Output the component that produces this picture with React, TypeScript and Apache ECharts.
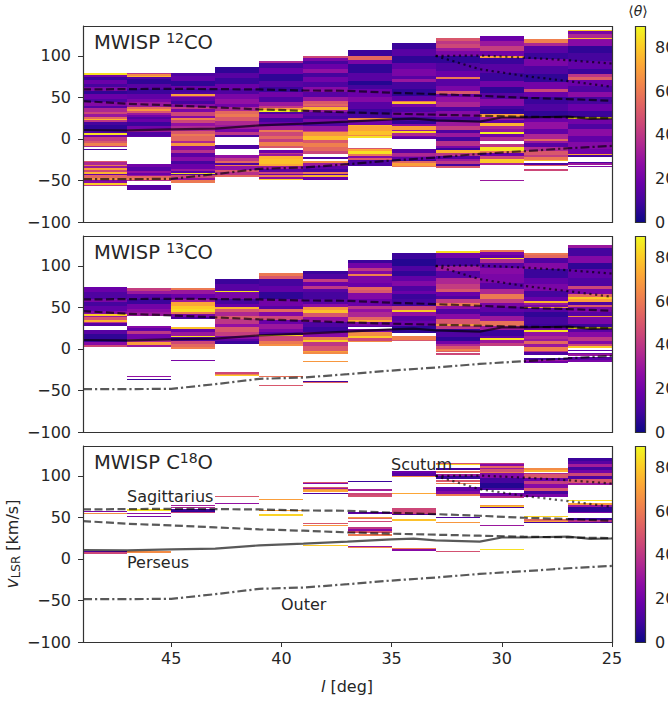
import React, { useEffect, useRef } from "react";
import * as echarts from "echarts";

type Band = [number, number, number];

const lonEdges = [49, 47, 45, 43, 41, 39, 37, 35, 33, 31, 29, 27, 25];
const yTicks = [-100, -50, 0, 50, 100];
const xTicks = [45, 40, 35, 30, 25];
const cbTicks = [0, 20, 40, 60, 80];
const panelNames = ["12", "13", "18"];

// [v high, v low, <theta>] per longitude bin
const co12: Band[][] = [
  [[79,77,85],[77,74,20],[74,71,8],[71,66,18],[66,62,10],[62,58,22],[58,54,6],[54,48,18],[48,44,12],[44,40,24],[40,37,14],[37,33,35],[33,30,45],[30,26,30],[26,24,55],[24,23,75],[23,21,40],[21,17,10],[17,12,6],[12,7,12],[7,5,85],[5,2,20],[2,-2,42],[-2,-5,50],[-5,-8,62],[-8,-10,35],[-12,-13,10],[-27,-28,50],[-28,-31,35],[-31,-33,60],[-33,-35,30],[-35,-37,70],[-37,-40,45],[-40,-42,75],[-42,-44,18],[-44,-47,55],[-47,-50,65],[-50,-53,25],[-53,-55,80],[-55,-57,40]],
  [[79.5,78,40],[78,76,65],[76,74,75],[74,72,12],[72,66,6],[66,60,14],[60,54,8],[54,48,16],[48,44,22],[44,39,30],[39,36,55],[36,34,68],[34,31,50],[31,29,30],[29,26,20],[26,24,12],[24,20,18],[20,16,8],[16,12,20],[12,8,30],[8,4,12],[4,2,16],[-30,-34,20],[-34,-38,14],[-38,-41,28],[-41,-43,18],[-43,-45,30],[-45,-47,55],[-47,-49,60],[-49,-50,35],[-56,-62,14]],
  [[80,76,12],[76,70,16],[70,64,6],[64,60,18],[60,56,10],[56,54,12],[54,52,70],[52,50,35],[50,46,16],[46,42,10],[42,38,25],[38,36,40],[36,32,22],[32,28,45],[28,25,25],[25,23,62],[23,19,45],[19,15,28],[15,10,35],[10,6,50],[6,3,60],[3,-2,55],[-2,-5,35],[-5,-9,68],[-9,-13,25],[-13,-17,38],[-17,-22,15],[-22,-26,25],[-26,-30,10],[-30,-36,18],[-36,-38,30],[-38,-41,14],[-41,-42,85],[-42,-44,12],[-44,-47,45],[-47,-50,28],[-50,-53,60]],
  [[87,80,6],[80,73,14],[73,66,8],[66,60,18],[60,54,12],[54,48,22],[48,42,28],[42,38,20],[38,34,35],[34,30,55],[30,26,60],[26,22,50],[22,17,35],[17,12,30],[12,8,22],[8,5,40],[5,2,12],[-7,-12,12],[-19,-23,28],[-23,-26,40],[-26,-29,55],[-29,-31,12],[-31,-33,60],[-33,-37,28],[-37,-40,50],[-40,-43,38],[-43,-46,55]],
  [[94,92,35],[92,85,10],[85,78,18],[78,70,6],[70,62,14],[62,56,8],[56,50,20],[50,44,12],[44,40,30],[40,37,42],[37,35,70],[35,33,88],[33,30,12],[30,25,25],[25,20,10],[20,15,18],[15,11,32],[11,8,60],[8,4,45],[4,0,55],[0,-4,42],[-4,-8,62],[-8,-11,50],[-13,-17,18],[-17,-18,40],[-18,-21,30],[-21,-24,75],[-24,-30,78],[-30,-33,72],[-33,-36,30],[-36,-40,14],[-40,-42,45],[-42,-44,20],[-44,-46,60],[-46,-48,25],[-48,-49,80]],
  [[99.6,98,45],[98,94,22],[94,90,10],[90,84,18],[84,80,28],[80,74,10],[74,68,20],[68,62,12],[62,56,25],[56,50,14],[50,46,30],[46,42,50],[42,40,55],[40,38,45],[38,35,75],[35,33,30],[33,28,14],[28,24,10],[24,20,22],[20,15,12],[15,10,30],[10,8,45],[8,3,68],[3,-1,78],[-1,-5,50],[-5,-10,62],[-10,-14,55],[-14,-18,45],[-22,-24,12],[-26,-29,65],[-29,-33,30],[-33,-36,16],[-36,-40,10],[-40,-42,60],[-42,-44,14],[-44,-46,75],[-46,-50,18]],
  [[107.6,100,8],[100,95,55],[95,90,22],[90,80,6],[80,70,14],[70,65,4],[65,60,10],[60,50,18],[50,44,24],[44,36,14],[36,30,8],[30,25,10],[25,23,65],[23,17,20],[17,15,75],[15,10,72],[10,5,78],[5,3,65],[3,1,85],[-11,-12,50],[-12,-15,72],[-15,-18,85],[-18,-21,60],[-21,-23,25],[-23,-25,50],[-25,-32,12]],
  [[116,108,8],[108,100,14],[100,92,6],[92,84,16],[84,76,22],[76,72,14],[72,68,30],[68,60,10],[60,52,6],[52,46,16],[46,44,60],[44,42,78],[42,38,22],[38,32,12],[32,26,20],[26,22,10],[22,18,6],[18,15,25],[15,11,70],[11,9,30],[9,7,82],[7,4,35],[4,3,20],[2,0,15],[-12,-17,14],[-17,-20,35],[-20,-22,30],[-22,-25,16],[-25,-27,8],[-27,-29,55],[-29,-32,70],[-32,-34,60]],
  [[122,118,50],[118,114,40],[114,110,45],[110,106,30],[106,100,22],[100,92,6],[92,82,12],[82,74,18],[74,72,60],[72,64,14],[64,58,22],[58,54,50],[54,50,18],[50,44,28],[44,38,34],[38,34,12],[34,26,25],[26,20,14],[20,15,30],[15,11,42],[11,7,12],[7,2,30],[2,-3,10],[-3,-8,38],[-8,-11,22],[-11,-13,8],[-13,-17,75],[-17,-20,40],[-20,-24,14],[-24,-27,30],[-27,-30,40],[-30,-33,10],[-33,-35,50]],
  [[123.6,118,18],[118,112,30],[112,106,42],[106,100,20],[100,98,70],[98,90,8],[90,80,14],[80,70,8],[70,62,20],[62,55,6],[55,48,14],[48,40,25],[40,36,10],[36,30,6],[30,27,70],[27,23,30],[23,19,16],[19,16,75],[16,12,35],[12,8,28],[8,6,88],[6,2,20],[2,-3,35],[-6,-10,40],[-10,-14,85],[-14,-17,60],[-17,-21,18],[-21,-24,45],[-24,-29,80],[-29,-31,35],[-49,-51,30]],
  [[120.8,116,62],[116,112,35],[112,104,14],[104,96,8],[96,88,22],[88,78,12],[78,68,6],[68,60,20],[60,56,45],[56,50,18],[50,42,8],[42,34,12],[34,26,6],[26,20,18],[20,12,28],[12,6,16],[6,0,35],[0,-2,55],[-2,-5,30],[-5,-10,14],[-10,-15,35],[-15,-19,50],[-19,-22,42],[-22,-25,60],[-25,-27,75],[-29,-31,12],[-31,-33,50],[-36,-38,45]],
  [[131.6,130,80],[130,126,22],[126,122,35],[122,120,78],[120,112,25],[112,104,6],[104,94,10],[94,84,16],[84,78,8],[78,74,40],[74,71,52],[71,64,18],[64,56,12],[56,50,26],[50,42,10],[42,34,18],[34,27,8],[27,24,84],[24,18,20],[18,12,12],[12,4,26],[4,-4,16],[-4,-12,24],[-12,-18,20],[-18,-19,72],[-19,-22,10],[-28,-29,12],[-29,-31,30],[-32,-34,25]],
];

const co13: Band[][] = [
  [[74,68,18],[68,60,12],[60,56,22],[56,52,10],[52,46,16],[46,42,24],[42,40,80],[40,38,30],[38,35,50],[35,33,75],[33,31,40],[31,28,14],[23,18,14],[18,12,6],[12,8,8],[8,5,25],[5,2,45]],
  [[73,70,42],[70,66,30],[66,60,14],[60,54,8],[54,48,20],[48,44,26],[44,40,30],[28,25,25],[25,22,16],[22,18,40],[18,12,20],[12,8,35],[8,5,70],[5,2,30],[-33,-34,28],[-36,-37,8]],
  [[73,71,60],[71,66,30],[66,60,18],[60,56,30],[56,52,72],[52,48,80],[48,44,84],[44,42,60],[42,38,22],[38,36,12],[26,24,78],[24,20,18],[20,16,30],[16,14,85],[14,10,12],[10,6,45],[6,2,55],[2,0,62],[-13,-15,22]],
  [[84,78,8],[78,70,14],[70,68,85],[68,60,22],[60,54,10],[54,50,18],[50,48,75],[48,44,50],[44,40,35],[40,36,50],[36,30,40],[30,26,28],[26,20,50],[20,16,42],[16,12,25],[12,9,15],[9,6,8],[-28,-30,45],[-30,-31,62],[-31,-32,80]],
  [[91.6,88,60],[88,84,50],[84,76,10],[76,68,16],[68,60,6],[60,52,20],[52,48,14],[48,44,55],[44,40,24],[40,35,45],[35,30,18],[30,24,30],[24,20,22],[20,17,14],[17,15,82],[15,10,45],[10,6,60],[6,3,66],[-32,-34,58],[-43,-44,50]],
  [[94,90,8],[90,84,12],[84,81,42],[81,76,18],[76,72,40],[72,68,14],[68,60,10],[60,54,14],[54,50,26],[50,47,68],[47,43,78],[43,39,50],[39,33,28],[33,26,12],[26,20,8],[20,14,25],[14,11,60],[11,8,80],[8,3,40],[3,-2,50],[-2,-4,70],[-4,-6,65],[-14,-15,68],[-38,-39.5,10],[-39.5,-40.5,55]],
  [[107,104,8],[104,98,20],[98,94,40],[94,90,24],[90,88,62],[88,80,22],[80,74,18],[74,71,55],[71,67,50],[67,60,24],[60,52,18],[52,48,40],[48,44,28],[44,39,35],[39,35,55],[35,32,72],[32,28,22],[28,26,14],[24,20,22],[20,16,65],[16,13,80],[13,10,45],[10,8,65]],
  [[115,108,8],[108,100,4],[100,94,12],[94,88,6],[88,82,16],[82,76,24],[76,70,12],[70,66,18],[66,60,8],[60,52,10],[52,47,45],[47,44,80],[44,40,28],[40,34,14],[34,28,18],[28,19,6],[15,11,62],[11,9,50]],
  [[117.6,115,84],[115,110,20],[110,100,10],[100,94,30],[94,86,14],[86,78,35],[78,72,42],[72,68,50],[68,64,18],[64,60,12],[60,55,42],[55,52,60],[52,48,28],[48,42,12],[42,36,25],[36,30,50],[30,28,68],[28,24,40],[24,20,8],[20,14,12],[14,10,6],[10,6,20],[6,3,35],[3,0,50],[0,-2,62],[-2,-4,52],[-5,-7,45]],
  [[119,117,60],[117,113,22],[113,110,16],[110,108,82],[108,104,35],[104,98,14],[98,90,25],[90,80,22],[80,72,14],[72,66,35],[66,60,60],[60,55,42],[55,50,22],[50,44,16],[44,40,10],[40,34,30],[34,28,58],[28,23,30],[23,16,8],[16,13,16],[13,11,85],[11,7,30],[7,3,42]],
  [[116,113,60],[113,110,55],[110,104,12],[104,96,24],[96,86,8],[86,78,16],[78,70,22],[70,62,10],[62,58,18],[58,55,75],[55,53,30],[53,51,22],[51,49,68],[49,44,14],[44,38,6],[38,30,10],[30,26,8],[26,23,18],[23,21,85],[21,16,28],[16,12,35],[12,10,30],[10,6,55],[6,2,30],[2,-2,62],[-2,-4,38],[-4,-7,12],[-11,-13,10],[-13,-15,30],[-15,-17,20]],
  [[125,122,30],[122,112,10],[112,104,24],[104,96,6],[96,86,16],[86,76,12],[76,72,45],[72,66,22],[66,62,55],[62,60,80],[60,57,70],[57,53,12],[53,50,50],[50,44,22],[44,40,14],[40,38,66],[38,30,22],[30,26,8],[26,24,85],[24,20,14],[20,14,25],[14,10,40],[10,6,24],[6,4,45],[4,1,80],[-1,-2,14],[-5,-6,20],[-6,-9,30],[-10,-13,14],[-13,-16,22]],
];

const c18o: Band[][] = [
  [[58,56,22],[55,54,65],[10,8,12],[8,6,45]],
  [[60,58,85],[55,54,28],[52,51,22],[9,7.5,65]],
  [[65,64,32],[63,61,35],[60,58,8],[58,56,5],[56,55,42]],
  [[75.5,74,50],[67.5,66,28]],
  [[72,71,70],[58.5,57.5,70],[54,52,82]],
  [[93,92,50],[92,90,25],[87,85,48],[85,84,30],[84,83,65],[83,81,72],[80,79,12],[43,42,50],[41,40,68],[16.5,15.5,80]],
  [[94,93,8],[84,82,32],[80,79,60],[79,77,45],[77,74,48],[56,54,15],[51,50,68],[49,48,55],[46,45,45],[38,36,40],[36,34,25],[34,31,50],[30,28,60],[15.5,14,30],[14,13,65]],
  [[106,103,18],[103,100,14],[100,99,65],[79.5,78.5,72],[61,58,45],[58,54,45],[54,53,14],[48,46,78],[13.5,12.5,62],[12,10,25]],
  [[116,115,50],[114,113,82],[110,107,10],[106,104,55],[102,100,30],[100,96,8],[95,93,50],[91,90,60],[87,82,16],[82,78,24],[78,76,60],[51,49.5,12],[44.5,43.5,68],[9.5,8.5,48]],
  [[116,114,40],[114,112,25],[112,110,55],[110,108,30],[108,105,48],[105,103,60],[103,98,25],[98,92,10],[92,86,4],[86,83,12],[79,76,20],[76,73,38],[65,64,68],[64,63,80],[63,62,12],[41,40,30],[12.5,11,85]],
  [[109,107,65],[107,105,75],[104,102,35],[102,98,50],[98,94,18],[94,90,42],[90,86,25],[86,82,50],[82,78,10],[78,75,22],[51.5,50.5,82],[48,46,55],[46,44.5,72],[44,43,10]],
  [[121,118,8],[118,114,14],[114,111,32],[111,107,10],[107,103,20],[103,100,45],[100,96,12],[96,92,50],[92,89,30],[70.5,69.5,85],[67,65,70],[65,63,30],[62,56,6],[56,55,22],[49,47,8],[47,45,40],[45,44,12]],
];

// spiral arm tracks: [l, v]
const sagittariusNear = [[49,59.6],[47,60],[45,60.4],[43,60],[41,59.6],[39,58.4],[37,58],[35,55.6],[33,54],[31,52],[29,49.6],[27,48],[25,46]];
const sagittariusFar = [[49,45.6],[47,42.4],[45,40.4],[43,38],[41,35.6],[39,34],[37,32],[35,30.4],[33,29.2],[31,28],[29,26.8],[27,26],[25,25]];
const perseus = [[49,10.8],[47,10.4],[45,11.6],[43,12.4],[41,16.4],[39,18.4],[37,20.8],[35,23.6],[34,24.4],[33,22.4],[31,20.8],[30,25.8],[29,25.8],[27,27],[26,24.2],[25,24.6]];
const outer = [[49,-48.4],[47,-48.4],[45,-48],[43,-42.4],[41,-36],[39,-34.4],[37,-30.4],[35,-26],[33,-22.4],[31,-18],[29,-14.8],[27,-11.2],[25,-8.4]];
const scutumUpper = [[33,100],[31,100.4],[29,98],[27,94.8],[25,90.8]];
const scutumLower = [[33,100],[31,84],[29,76],[27,69.6],[25,62.8]];

const plasma = ["#0d0887","#41049d","#6a00a8","#8f0da4","#b12a90","#cc4778","#e16462","#f1844b","#fca636","#fcce25","#f0f921"];

function thetaColor(t: number): string {
  const u = Math.max(0, Math.min(1, t / 90)) * (plasma.length - 1);
  const i = Math.min(plasma.length - 2, Math.floor(u));
  const f = u - i;
  const a = plasma[i], b = plasma[i + 1];
  const ch = (s: string, k: number) => parseInt(s.substr(1 + 2 * k, 2), 16);
  const c = [0, 1, 2].map((k) => Math.round(ch(a, k) + (ch(b, k) - ch(a, k)) * f));
  return `rgb(${c[0]},${c[1]},${c[2]})`;
}

const FONT = "DejaVu Sans";
const INK = "#262626";
const AXIS = "#333333";
const GL = 83, GW = 529, GH = 196;
const TOPS = [26, 236, 446];
const CBL = 635, CBW = 10;
const VMAX = 136;
const TICK_FS = 16;

function cells(cols: Band[][]) {
  const out: number[][] = [];
  cols.forEach((bands, i) => {
    bands.forEach((b) => out.push([lonEdges[i], lonEdges[i + 1], b[0], b[1], b[2]]));
  });
  return out;
}

function renderCell(_: any, api: any) {
  const p0 = api.coord([api.value(0), api.value(2)]);
  const p1 = api.coord([api.value(1), api.value(3)]);
  const x0 = Math.round(p0[0]), x1 = Math.round(p1[0]);
  const y0 = Math.round(p0[1]);
  const y1 = Math.max(y0 + 1, Math.round(p1[1]));
  return {
    type: "rect",
    shape: { x: x0, y: y0, width: x1 - x0, height: y1 - y0 },
    style: { fill: thetaColor(api.value(4)) },
  };
}

function renderBar(_: any, api: any) {
  const p0 = api.coord([0, 90]);
  const p1 = api.coord([1, 0]);
  const stops = plasma.map((c, i) => ({ offset: 1 - i / (plasma.length - 1), color: c })).reverse();
  return {
    type: "rect",
    shape: { x: p0[0], y: p0[1], width: p1[0] - p0[0], height: p1[1] - p0[1] },
    style: { fill: new echarts.graphic.LinearGradient(0, 0, 0, 1, stops) },
  };
}

function minusFmt(v: number) {
  return String(v).replace("-", "\u2212");
}

function buildOption() {
  const grid: any[] = [], xAxis: any[] = [], yAxis: any[] = [], series: any[] = [], graphic: any[] = [];
  const data = [co12, co13, c18o];
  const tracks: [number[][], any][] = [
    [sagittariusNear, [8, 3.5]],
    [sagittariusFar, [8, 3.5]],
    [perseus, "solid"],
    [outer, [9, 3, 2.2, 3]],
    [scutumUpper, [2.2, 3.6]],
    [scutumLower, [2.2, 3.6]],
  ];
  TOPS.forEach((top, k) => {
    grid.push({ left: GL, top, width: GW, height: GH, containLabel: false, outerBoundsMode: "none" });
    xAxis.push({
      gridIndex: k, type: "value", inverse: true, min: 25, max: 49, interval: 5, splitLine: { show: false },
      axisLine: { show: true, onZero: false, lineStyle: { color: AXIS, width: 1 } },
      axisTick: { show: k === 2, length: 5, lineStyle: { color: AXIS }, customValues: xTicks },
      axisLabel: { show: k === 2, customValues: xTicks, margin: 8, fontFamily: FONT, fontSize: TICK_FS, color: INK },
    });
    yAxis.push({
      gridIndex: k, type: "value", min: -100, max: VMAX, splitLine: { show: false },
      axisLine: { show: true, onZero: false, lineStyle: { color: AXIS, width: 1 } },
      axisTick: { show: true, length: 5, lineStyle: { color: AXIS }, customValues: yTicks },
      axisLabel: { show: true, customValues: yTicks, margin: 12, fontFamily: FONT, fontSize: TICK_FS, color: INK, formatter: minusFmt },
    });
    series.push({
      type: "custom", xAxisIndex: k, yAxisIndex: k, silent: true, z: 2, clip: true,
      encode: { x: [0, 1], y: [2, 3] }, renderItem: renderCell, data: cells(data[k]),
    });
    tracks.forEach(([pts, type]) => {
      series.push({
        type: "line", xAxisIndex: k, yAxisIndex: k, silent: true, z: 3, symbol: "none", clip: true, data: pts,
        lineStyle: { color: "#000", opacity: 0.65, width: 2.2, type },
      });
    });
    graphic.push({
      type: "rect", z: 50, silent: true,
      shape: { x: GL + 0.5, y: top + 0.5, width: GW, height: GH },
      style: { fill: "none", stroke: AXIS, lineWidth: 1.2 },
    });
  });
  TOPS.forEach((top, k) => {
    const gi = 3 + k;
    grid.push({ left: CBL, top, width: CBW, height: GH, outerBoundsMode: "none" });
    xAxis.push({ gridIndex: gi, type: "value", min: 0, max: 1, show: false });
    yAxis.push({
      gridIndex: gi, type: "value", position: "right", min: 0, max: 90, splitLine: { show: false },
      axisLine: { show: false },
      axisTick: { show: true, length: 5, lineStyle: { color: AXIS }, customValues: cbTicks },
      axisLabel: { show: true, customValues: cbTicks, margin: 10, fontFamily: FONT, fontSize: TICK_FS, color: INK },
    });
    series.push({
      type: "custom", xAxisIndex: gi, yAxisIndex: gi, silent: true, z: 2,
      renderItem: renderBar, data: [[0, 90]], encode: { x: 0, y: 1 },
    });
    graphic.push({
      type: "rect", z: 50, silent: true,
      shape: { x: CBL + 0.5, y: top + 0.5, width: CBW, height: GH },
      style: { fill: "none", stroke: AXIS, lineWidth: 1.2 },
    });
  });
  const base = { fontFamily: FONT, fill: INK };
  const supRich = {
    s: { fontFamily: FONT, fontSize: 14, fill: INK, verticalAlign: "top", lineHeight: 10 },
    m: { fontFamily: FONT, fontSize: 19.5, fill: INK, lineHeight: 22 },
  };
  graphic.push({ type: "text", z: 60, silent: true, x: 94, y: 31, style: { ...base, fontSize: 19.5, rich: supRich, text: `{m|MWISP }{s|${panelNames[0]}}{m|CO}` } });
  graphic.push({ type: "text", z: 60, silent: true, x: 94, y: 241, style: { ...base, fontSize: 19.5, rich: supRich, text: `{m|MWISP }{s|${panelNames[1]}}{m|CO}` } });
  graphic.push({ type: "text", z: 60, silent: true, x: 94, y: 451, style: { ...base, fontSize: 19.5, rich: supRich, text: `{m|MWISP C}{s|${panelNames[2]}}{m|O}` } });
  const arm = (text: string, x: number, y: number) => ({ type: "text", z: 60, silent: true, x, y, style: { ...base, fontSize: 16, text, align: "left", verticalAlign: "middle" } });
  graphic.push(arm("Sagittarius", 127, 496), arm("Perseus", 127, 562), arm("Outer", 281, 604), arm("Scutum", 391, 464));
  graphic.push({
    type: "text", z: 60, silent: true, x: 347, y: 686,
    style: { ...base, fontSize: 16, align: "center", verticalAlign: "middle", text: "{i|l} [deg]", rich: { i: { fontFamily: FONT, fontSize: 16, fontStyle: "italic", fill: INK } } },
  });
  graphic.push({
    type: "text", z: 60, silent: true, x: 12, y: 544, rotation: Math.PI / 2,
    style: {
      ...base, fontSize: 16, align: "center", verticalAlign: "middle", text: "{i|v}{b|LSR}{m| [km/s]}",
      rich: {
        i: { fontFamily: FONT, fontSize: 17, fontStyle: "italic", fill: INK, lineHeight: 20 },
        b: { fontFamily: FONT, fontSize: 12, fill: INK, verticalAlign: "bottom", lineHeight: 20 },
        m: { fontFamily: FONT, fontSize: 16, fill: INK, lineHeight: 20 },
      },
    },
  });
  graphic.push({
    type: "text", z: 60, silent: true, x: 638, y: 11,
    style: { ...base, fontSize: 14, align: "center", verticalAlign: "middle", text: "\u27e8{i|\u03b8}\u27e9", rich: { i: { fontFamily: FONT, fontSize: 14, fontStyle: "italic", fill: INK } } },
  });
  return { animation: false, grid, xAxis, yAxis, series, graphic };
}

export default function App() {
  const ref = useRef<HTMLDivElement>(null);
  useEffect(() => {
    const chart = echarts.init(ref.current!, undefined, { renderer: "svg" });
    chart.setOption(buildOption() as any);
    return () => chart.dispose();
  }, []);
  return <div ref={ref} style={{ position: "fixed", left: 0, top: 0, width: 668, height: 701, background: "#fff" }} />;
}
